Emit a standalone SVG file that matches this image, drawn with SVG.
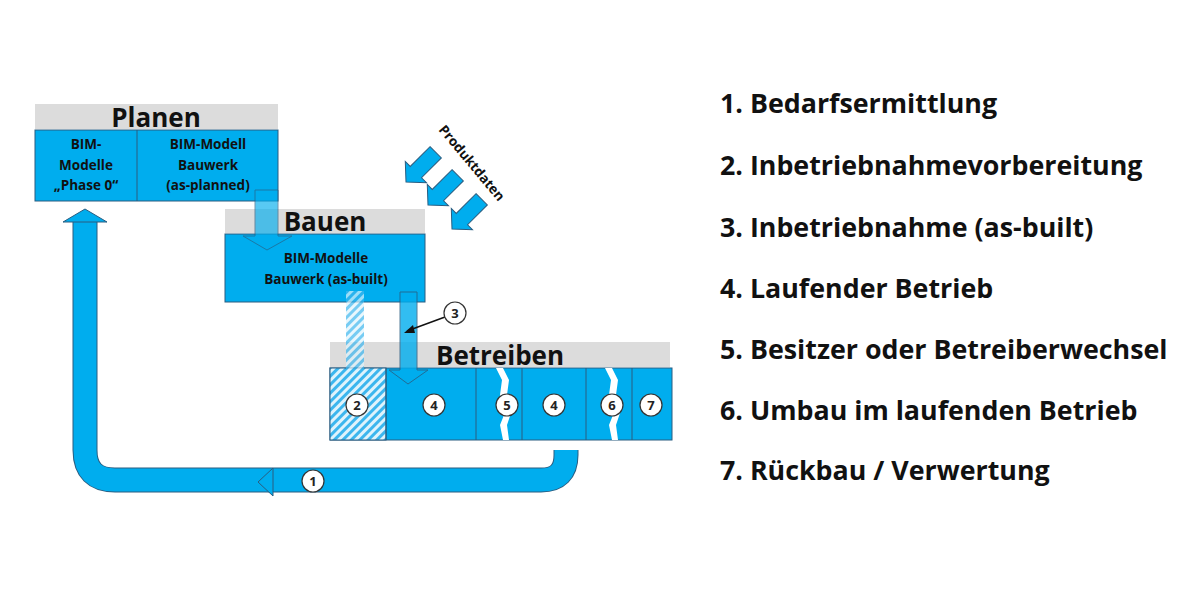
<svg xmlns="http://www.w3.org/2000/svg" width="1200" height="600" viewBox="0 0 1200 600">
<defs>
<style>
.hdr{fill:#dcdcdc}
.blue{fill:#00adee;stroke:#2a5d80;stroke-width:1}
.t{font-family:"Open Sans","DejaVu Sans",sans-serif;font-weight:bold;fill:#111}
.h{font-size:26px}
.s{font-size:13.5px;text-anchor:middle}
.l{font-size:26.8px}
.c{fill:#fff;stroke:#333;stroke-width:1.2}
.n{font-family:"Open Sans","DejaVu Sans",sans-serif;font-weight:bold;font-size:13px;text-anchor:middle;fill:#222}
</style>
<pattern id="hatch" width="6" height="6" patternUnits="userSpaceOnUse" patternTransform="rotate(45)">
<rect width="6" height="6" fill="#dff3fc"/><rect width="3" height="6" fill="#3cb6ee"/>
</pattern>
<path id="pa" d="M-8,0 L8,0 L8,28 L15,28 L0,42 L-15,28 L-8,28 Z"/>
</defs>
<rect width="1200" height="600" fill="#fff"/>
<g id="planen">
<rect x="35" y="104" width="243" height="25" class="hdr"/>
<text x="156" y="127" class="t h" text-anchor="middle">Planen</text>
<rect x="35" y="130" width="243" height="71" class="blue"/>
<line x1="137" y1="130" x2="137" y2="201" stroke="#2a5d80"/>
<text class="t s"><tspan x="86" y="149">BIM-</tspan><tspan x="86" y="170">Modelle</tspan><tspan x="86" y="190">„Phase 0“</tspan></text>
<text class="t s"><tspan x="208" y="149">BIM-Modell</tspan><tspan x="208" y="170">Bauwerk</tspan><tspan x="208" y="190">(as-planned)</tspan></text>
</g>
<g id="bauen">
<rect x="225" y="209" width="200" height="24" class="hdr"/>
<text x="325" y="231" class="t h" text-anchor="middle">Bauen</text>
<rect x="225" y="234" width="200" height="68" class="blue"/>
<text class="t s"><tspan x="326" y="263">BIM-Modelle</tspan><tspan x="326" y="284">Bauwerk (as-built)</tspan></text>
</g>
<g id="betreiben">
<rect x="330" y="342" width="340" height="25" class="hdr"/>
<text x="500" y="365" class="t h" text-anchor="middle">Betreiben</text>
<rect x="330" y="368" width="342" height="72" class="blue"/>
<rect x="330" y="368" width="56" height="72" fill="url(#hatch)" stroke="#2a5d80"/>
<g stroke="#2a5d80"><line x1="386" y1="368" x2="386" y2="440"/><line x1="476" y1="368" x2="476" y2="440"/><line x1="522" y1="368" x2="522" y2="440"/><line x1="586" y1="368" x2="586" y2="440"/><line x1="632" y1="368" x2="632" y2="440"/></g>
<path d="M496,368 L502,380 L500,395 L506,410 L500,425 L503,440 L509,440 L507,425 L512,410 L507,395 L509,380 L503,368 Z" fill="#fff"/>
<path d="M605,368 L611,380 L609,395 L615,410 L609,425 L612,440 L618,440 L616,425 L621,410 L616,395 L618,380 L612,368 Z" fill="#fff"/>
<circle cx="357" cy="405" r="11" class="c"/><text x="357" y="410" class="n">2</text>
<circle cx="434" cy="405" r="11" class="c"/><text x="434" y="410" class="n">4</text>
<circle cx="507" cy="405" r="11" class="c"/><text x="507" y="410" class="n">5</text>
<circle cx="554" cy="405" r="11" class="c"/><text x="554" y="410" class="n">4</text>
<circle cx="612" cy="405" r="11" class="c"/><text x="612" y="410" class="n">6</text>
<circle cx="651" cy="405" r="11" class="c"/><text x="651" y="410" class="n">7</text>
</g>
<g id="connectors">
<path d="M85,222 V450 Q85,480 115,480 H541 Q566,480 566,455 V450" fill="none" stroke="#2a5d80" stroke-width="25"/>
<path d="M85,222 V450 Q85,480 115,480 H541 Q566,480 566,455 V450" fill="none" stroke="#00adee" stroke-width="23"/>
<polygon points="63,222 85,209 107,222" class="blue"/>
<polygon points="258,482 273,468 273,496" class="blue"/>
<path d="M255,190 H278 V236 H292 L267,250 L243,236 H255 Z" class="blue" opacity="0.65"/>
<path d="M400,292 H417 V370 H428 L408,384 L389,370 H400 Z" class="blue" opacity="0.8"/>
<rect x="346" y="291" width="18" height="90" fill="url(#hatch)" opacity="0.7"/>
<line x1="445" y1="317" x2="407" y2="331" stroke="#111" stroke-width="1.5"/>
<polygon points="404,333 413,325 415,333" fill="#111"/>
<circle cx="455" cy="313" r="11" class="c"/><text x="455" y="318" class="n">3</text>
<circle cx="313" cy="481" r="11" class="c"/><text x="313" y="486" class="n">1</text>
<g class="blue">
<use href="#pa" transform="translate(406,182) rotate(45) translate(0,-42)"/>
<use href="#pa" transform="translate(428,205) rotate(45) translate(0,-42)"/>
<use href="#pa" transform="translate(452,229) rotate(45) translate(0,-42)"/>
</g>
<text x="438" y="130" class="t" font-size="13.5" transform="rotate(50 438 130)">Produktdaten</text>
</g>
<g id="legend" class="t l">
<text x="720" y="113">1. Bedarfsermittlung</text>
<text x="720" y="175">2. Inbetriebnahmevorbereitung</text>
<text x="720" y="237">3. Inbetriebnahme (as-built)</text>
<text x="720" y="298">4. Laufender Betrieb</text>
<text x="720" y="359">5. Besitzer oder Betreiberwechsel</text>
<text x="720" y="420">6. Umbau im laufenden Betrieb</text>
<text x="720" y="480">7. Rückbau / Verwertung</text>
</g>
</svg>
